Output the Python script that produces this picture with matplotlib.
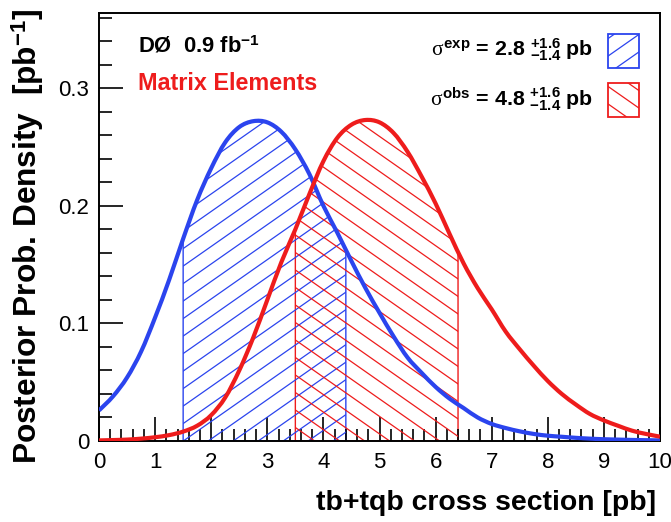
import numpy as np
import matplotlib
matplotlib.use("Agg")
import matplotlib.pyplot as plt
from matplotlib.patches import Polygon, Rectangle, PathPatch
from matplotlib.path import Path
from matplotlib.collections import LineCollection

plt.rcParams['font.family'] = ['Liberation Sans', 'DejaVu Sans']
plt.rcParams['mathtext.fontset'] = 'custom'
plt.rcParams['mathtext.rm'] = 'Liberation Sans:bold'
plt.rcParams['mathtext.bf'] = 'Liberation Sans:bold'
plt.rcParams['mathtext.it'] = 'Liberation Serif'
plt.rcParams['mathtext.sf'] = 'Liberation Sans:bold'

# ---------------- data ----------------
x_vals = [0.0, 0.25, 0.5, 0.75, 1.0, 1.25, 1.5, 1.75, 2.0, 2.25, 2.5, 2.75,
          3.0, 3.25, 3.5, 3.75, 4.0, 4.25, 4.5, 4.75, 5.0, 5.25, 5.5, 5.75,
          6.0, 6.25, 6.5, 6.75, 7.0, 7.25, 7.5, 7.75, 8.0, 8.25, 8.5, 8.75,
          9.0, 9.25, 9.5, 9.75, 10.0]
expected = [0.026, 0.038, 0.054, 0.076, 0.105, 0.137, 0.172, 0.205, 0.232, 0.254,
            0.267, 0.272, 0.271, 0.263, 0.248, 0.227, 0.200, 0.177, 0.153, 0.130,
            0.109, 0.089, 0.071, 0.058, 0.046, 0.036, 0.028, 0.020, 0.0145, 0.011,
            0.0082, 0.006, 0.0045, 0.0036, 0.0027, 0.002, 0.0015, 0.0012, 0.0009,
            0.0007, 0.0005]
observed = [0.0005, 0.0008, 0.0012, 0.002, 0.0032, 0.005, 0.008, 0.013, 0.022, 0.037,
            0.060, 0.088, 0.120, 0.152, 0.180, 0.210, 0.238, 0.258, 0.269, 0.273,
            0.271, 0.262, 0.246, 0.225, 0.202, 0.176, 0.151, 0.130, 0.112, 0.093,
            0.078, 0.064, 0.051, 0.040, 0.031, 0.023, 0.0175, 0.013, 0.0088, 0.006,
            0.0037]
exp_band = [1.5, 4.4]
obs_band = [3.5, 6.4]
x_ticks = [0, 1, 2, 3, 4, 5, 6, 7, 8, 9, 10]
y_ticks = [0.0, 0.1, 0.2, 0.3]
y_tick_labels = ['0', '0.1', '0.2', '0.3']
exp_label = r'$\sigma^{\mathrm{exp}}\,=\,2.8\ {}^{+1.6}_{-1.4}\ \mathrm{pb}$'
obs_label = r'$\sigma^{\mathrm{obs}}\,=\,4.8\ {}^{+1.6}_{-1.4}\ \mathrm{pb}$'

BLUE = '#2b44ee'
RED = '#ee1c1c'

fig = plt.figure(figsize=(6.71, 5.22), dpi=100)
ax = fig.add_axes([99/671, 1-441/522, (660-99)/671, (441-13)/522])
ax.set_xlim(0, 10)
ax.set_ylim(0, 0.364)

W = (660-99)
H = (441-13)
ANG = np.deg2rad(35)
SPACING_PX = 17.5


def smooth_path(xs, ys):
    """Catmull-Rom curve through the points, as cubic Bezier path."""
    p = np.column_stack([xs, ys]).astype(float)
    n = len(p)
    verts = [p[0]]
    codes = [Path.MOVETO]
    for i in range(n - 1):
        p0 = p[i - 1] if i > 0 else p[i]
        p1 = p[i]
        p2 = p[i + 1]
        p3 = p[i + 2] if i + 2 < n else p[i + 1]
        c1 = p1 + (p2 - p0) / 6.0
        c2 = p2 - (p3 - p1) / 6.0
        verts += [c1, c2, p2]
        codes += [Path.CURVE4] * 3
    return Path(verts, codes)


def hatch_lines(clip_patch, sign, color):
    slope = np.tan(ANG) * W / H * sign
    dy = SPACING_PX / H
    offs = np.arange(-3, 3, dy)
    segs = [[(-0.1, c + slope * -0.1), (1.1, c + slope * 1.1)] for c in offs]
    lc = LineCollection(segs, colors=color, linewidths=0.9, transform=ax.transAxes)
    ax.add_collection(lc)
    lc.set_clip_path(clip_patch)


def band(xs, ys, lo, hi, color, sign):
    xs = np.asarray(xs); ys = np.asarray(ys)
    m = (xs > lo) & (xs < hi)
    px = np.concatenate([[lo], xs[m], [hi]])
    py = np.concatenate([[np.interp(lo, xs, ys)], ys[m], [np.interp(hi, xs, ys)]])
    verts = np.column_stack([np.concatenate([[lo], px, [hi]]),
                             np.concatenate([[0], py, [0]])])
    poly = Polygon(verts, closed=True, facecolor='none', edgecolor=color, lw=1.0)
    ax.add_patch(poly)
    hatch_lines(poly, sign, color)


band(x_vals, expected, exp_band[0], exp_band[1], BLUE, +1)
band(x_vals, observed, obs_band[0], obs_band[1], RED, -1)

ax.add_patch(PathPatch(smooth_path(x_vals, expected), facecolor='none',
                       edgecolor=BLUE, lw=3.0, zorder=5, capstyle='butt'))
ax.add_patch(PathPatch(smooth_path(x_vals, observed), facecolor='none',
                       edgecolor=RED, lw=3.0, zorder=6, capstyle='butt'))

# ticks
ax.set_xticks(x_ticks)
ax.set_xticks(np.arange(0, 10.01, 0.2), minor=True)
ax.set_yticks(y_ticks)
ax.set_yticklabels(y_tick_labels)
ax.set_yticks(np.arange(0, 0.361, 0.02), minor=True)
ax.tick_params(which='both', direction='in', top=False, right=False, width=1.2,
               labelsize=16)
ax.tick_params(which='major', length=17)
ax.tick_params(which='minor', length=9)
ax.tick_params(axis='x', pad=8)
ax.tick_params(axis='y', pad=7)
for s in ax.spines.values():
    s.set_linewidth(1.4)

ax.set_ylabel(r'Posterior Prob. Density  [pb$^{-1}$]', va='center',
              fontsize=22.8, fontweight='bold')
ax.yaxis.set_label_coords(-(99-28)/W, (441-236)/H)
fig.text(656/671, 1-503/522, 'tb+tqb cross section [pb]', fontsize=20.4,
         fontweight='bold', ha='right', va='center')

# annotations
ax.text((138-99)/W, 1-(47-13)/H, r'DØ  0.9 fb$^{-1}$', transform=ax.transAxes,
        fontsize=15.8, fontweight='bold', ha='left', va='center')
ax.text((138-99)/W, 1-(83-13)/H, 'Matrix Elements', transform=ax.transAxes,
        fontsize=16.8, fontweight='bold', color=RED, ha='left', va='center')

ax.text((593-99)/W, 1-(50-13)/H, exp_label, transform=ax.transAxes,
        fontsize=15.4, ha='right', va='center')
ax.text((593-99)/W, 1-(99-13)/H, obs_label, transform=ax.transAxes,
        fontsize=15.4, ha='right', va='center')

for (ytop, color, sign) in [(34, BLUE, +1), (83, RED, -1)]:
    x0 = (608-99)/W
    y0 = 1-(ytop+34-13)/H
    r = Rectangle((x0, y0), 31/W, 34/H, transform=ax.transAxes,
                  facecolor='none', edgecolor=color, lw=1.3, clip_on=False)
    ax.add_patch(r)
    hatch_lines(r, sign, color)

fig.savefig('out.png', dpi=100)
